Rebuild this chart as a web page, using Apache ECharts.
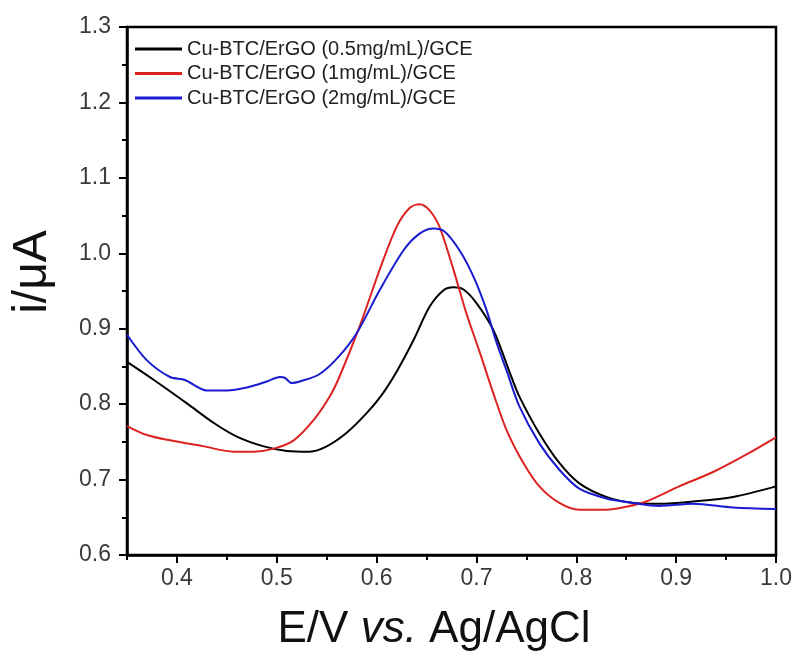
<!DOCTYPE html>
<html>
<head>
<meta charset="utf-8">
<script src="https://cdn.jsdelivr.net/npm/echarts@6/dist/echarts.min.js"></script>
<style>html,body{margin:0;padding:0;background:#fff}#c{width:795px;height:656px}</style>
</head>
<body>
<div id="c"></div>
<script>
var seriesNames = ['Cu-BTC/ErGO (0.5mg/mL)/GCE', 'Cu-BTC/ErGO (1mg/mL)/GCE', 'Cu-BTC/ErGO (2mg/mL)/GCE'];
var xTickValues = [0.4, 0.5, 0.6, 0.7, 0.8, 0.9, 1.0];
var xMinorValues = [0.35, 0.45, 0.55, 0.65, 0.75, 0.85, 0.95];

var blackE = [0.35,0.377,0.41,0.437,0.46,0.487,0.51,0.533,0.55,0.57,0.59,0.605,0.62,0.637,0.653,0.667,0.677,0.687,0.70,0.717,0.735,0.743,0.763,0.783,0.803,0.83,0.857,0.883,0.917,0.957,1.0];
var blackI = [0.856,0.832,0.801,0.775,0.757,0.744,0.738,0.737,0.744,0.762,0.788,0.812,0.843,0.885,0.929,0.951,0.955,0.952,0.934,0.898,0.836,0.810,0.761,0.722,0.695,0.677,0.669,0.668,0.671,0.677,0.691];

var redE = [0.35,0.37,0.393,0.427,0.457,0.477,0.497,0.517,0.537,0.553,0.563,0.583,0.603,0.62,0.633,0.643,0.653,0.663,0.677,0.69,0.703,0.717,0.73,0.747,0.763,0.783,0.803,0.83,0.85,0.87,0.903,0.937,0.97,1.0];
var redI = [0.771,0.759,0.752,0.744,0.737,0.737,0.741,0.752,0.779,0.810,0.837,0.903,0.978,1.035,1.060,1.065,1.057,1.035,0.978,0.920,0.870,0.814,0.766,0.722,0.691,0.669,0.660,0.660,0.664,0.671,0.691,0.710,0.733,0.756];

var blueE = [0.35,0.37,0.393,0.408,0.43,0.45,0.47,0.49,0.503,0.508,0.515,0.523,0.543,0.562,0.58,0.603,0.627,0.643,0.657,0.668,0.683,0.697,0.71,0.72,0.73,0.743,0.763,0.783,0.803,0.83,0.857,0.883,0.917,0.957,1.0];
var blueI = [0.892,0.858,0.836,0.832,0.818,0.818,0.822,0.830,0.836,0.835,0.828,0.830,0.840,0.863,0.894,0.951,1.004,1.026,1.033,1.029,1.004,0.969,0.925,0.882,0.845,0.797,0.748,0.713,0.688,0.675,0.669,0.665,0.668,0.663,0.661];

function pairs(xs, ys) { return xs.map(function (x, i) { return [x, ys[i]]; }); }

var FONT = '"Liberation Sans", Arial, sans-serif';
var chart = echarts.init(document.getElementById('c'), null, {renderer: 'canvas'});
var lineSeries = function (name, data, color) {
  return {
    name: name, type: 'line', data: data, symbol: 'none', smooth: 0.3,
    xAxisIndex: 0, yAxisIndex: 0,
    lineStyle: {color: color, width: 2}, itemStyle: {color: color},
    animation: false, z: 3
  };
};
chart.setOption({
  animation: false,
  backgroundColor: '#fff',
  grid: {left: 127, right: 18, top: 27, bottom: 101, show: true, borderColor: '#000', borderWidth: 2.5, backgroundColor: 'transparent'},
  legend: {
    orient: 'vertical', left: 135, top: 39, padding: 0, icon: 'rect', itemWidth: 47, itemHeight: 3, itemGap: 4.5,
    textStyle: {fontFamily: FONT, fontSize: 20, lineHeight: 20, color: '#222'},
    data: seriesNames
  },
  xAxis: [{
    type: 'value', min: 0.35, max: 1.0,
    axisLine: {show: true, onZero: false, lineStyle: {color: '#000', width: 2.5}},
    axisTick: {show: true, inside: false, length: 8, lineStyle: {color: '#000', width: 2}, customValues: xTickValues},
    axisLabel: {show: true, margin: 12, fontFamily: FONT, fontSize: 23, color: '#3a3a3a', customValues: xTickValues,
      formatter: function (v) { return v.toFixed(1); }},
    splitLine: {show: false}
  }, {
    type: 'value', min: 0.35, max: 1.0, position: 'bottom', gridIndex: 0,
    axisLine: {show: false, onZero: false},
    axisTick: {show: true, inside: false, length: 5, lineStyle: {color: '#000', width: 2}, customValues: xMinorValues},
    axisLabel: {show: false, customValues: xMinorValues},
    splitLine: {show: false}
  }],
  yAxis: [{
    type: 'value', min: 0.6, max: 1.3, interval: 0.1,
    axisLine: {show: true, onZero: false, lineStyle: {color: '#000', width: 2.5}},
    axisTick: {show: true, inside: false, length: 8, lineStyle: {color: '#000', width: 2}},
    minorTick: {show: true, splitNumber: 2, length: 5, lineStyle: {color: '#000', width: 2}},
    axisLabel: {margin: 16, fontFamily: FONT, fontSize: 23, color: '#3a3a3a',
      formatter: function (v) { return v.toFixed(1); }},
    splitLine: {show: false}
  }],
  graphic: [{
    type: 'text', x: 434, y: 630,
    style: {
      text: '{n|E/V }{i|vs.}{n| Ag/AgCl}', align: 'center', verticalAlign: 'middle',
      rich: {
        n: {fontFamily: FONT, fontSize: 44, fill: '#111'},
        i: {fontFamily: FONT, fontSize: 44, fontStyle: 'italic', fill: '#111'}
      }
    }
  }, {
    type: 'text', x: 33, y: 272, rotation: Math.PI / 2,
    style: {text: 'i/μA', align: 'center', verticalAlign: 'middle', fontFamily: FONT, fontSize: 48, fill: '#111'}
  }],
  series: [
    lineSeries(seriesNames[0], pairs(blackE, blackI), '#000000'),
    lineSeries(seriesNames[1], pairs(redE, redI), '#dd2222'),
    lineSeries(seriesNames[2], pairs(blueE, blueI), '#1a1ad0')
  ]
});
</script>
</body>
</html>
